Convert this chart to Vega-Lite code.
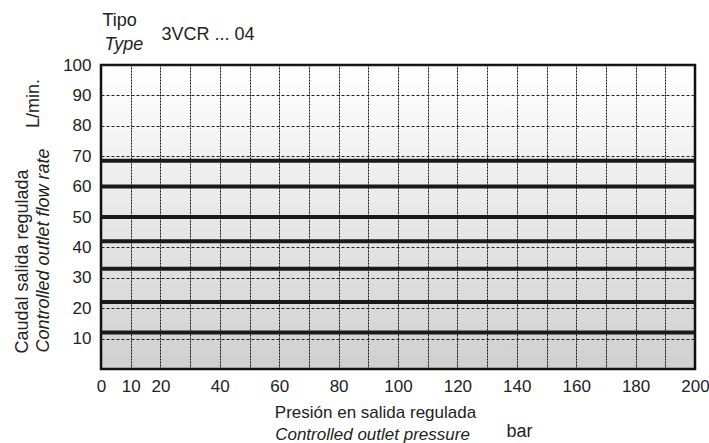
{
  "$schema": "https://vega.github.io/schema/vega-lite/v6.json",
  "width": 594,
  "height": 304,
  "autosize": {"type": "none"},
  "padding": {"left": 101, "top": 65, "right": 14, "bottom": 74},
  "background": "white",
  "config": {
    "font": "Liberation Sans",
    "view": {
      "stroke": "#111111",
      "strokeWidth": 2.5,
      "fill": {
        "gradient": "linear",
        "x1": 0, "y1": 0, "x2": 0, "y2": 1,
        "stops": [
          {"offset": 0, "color": "#ffffff"},
          {"offset": 1, "color": "#d0d0d0"}
        ]
      }
    },
    "axis": {
      "labelFont": "Liberation Sans",
      "titleFont": "Liberation Sans",
      "labelColor": "#222222",
      "titleColor": "#222222",
      "titleFontWeight": "normal",
      "titleFontSize": 18
    }
  },
  "datasets": {
    "flows": [
      {"flow": 68.5}, {"flow": 60}, {"flow": 50}, {"flow": 42},
      {"flow": 33}, {"flow": 22}, {"flow": 12}
    ],
    "pressure": [{"p": 0}, {"p": 200}]
  },
  "resolve": {"axis": {"x": "independent", "y": "independent"}},
  "layer": [
    {
      "data": {"name": "pressure"},
      "mark": {"type": "rule", "opacity": 0},
      "encoding": {
        "x": {
          "field": "p", "type": "quantitative",
          "scale": {"domain": [0, 200], "nice": false, "zero": false},
          "axis": {
            "orient": "bottom",
            "values": [0,10,20,30,40,50,60,70,80,90,100,110,120,130,140,150,160,170,180,190,200],
            "labelExpr": "datum.value <= 20 || datum.value % 20 === 0 ? datum.label : ''",
            "grid": true, "gridColor": "#111111", "gridDash": [2, 1], "gridWidth": 1, "gridOpacity": 1,
            "ticks": false, "domain": false,
            "labelFontSize": 17, "labelPadding": 9, "labelOverlap": false, "labelFlush": false,
            "title": "Presión en salida regulada", "titleFontSize": 17,
            "titleX": 274, "titleY": 48.5, "titleBaseline": "alphabetic", "titleAlign": "center"
          }
        }
      }
    },
    {
      "data": {"name": "flows"},
      "mark": {"type": "rule", "strokeWidth": 4, "color": "#1a1a1a"},
      "encoding": {
        "y": {
          "field": "flow", "type": "quantitative",
          "scale": {"domain": [0, 100], "nice": false},
          "axis": {
            "orient": "left",
            "values": [10,20,30,40,50,60,70,80,90,100],
            "grid": true, "gridColor": "#222222", "gridDash": [3, 2], "gridWidth": 1, "gridOpacity": 1,
            "ticks": false, "domain": false,
            "labelFontSize": 17, "labelPadding": 10,
            "title": "Controlled outlet flow rate",
            "titleFontStyle": "italic",
            "titleX": -53, "titleY": 185, "titleAngle": -90,
            "titleBaseline": "alphabetic", "titleAlign": "center"
          }
        }
      }
    },
    {
      "data": {"name": "flows"},
      "mark": {"type": "rule", "opacity": 0},
      "encoding": {
        "y": {
          "field": "flow", "type": "quantitative",
          "axis": {
            "orient": "left", "labels": false, "ticks": false, "domain": false, "grid": false,
            "title": "Caudal salida regulada",
            "titleX": -74, "titleY": 196, "titleAngle": -90,
            "titleBaseline": "alphabetic", "titleAlign": "center"
          }
        }
      }
    },
    {
      "data": {"name": "flows"},
      "mark": {"type": "rule", "opacity": 0},
      "encoding": {
        "y": {
          "field": "flow", "type": "quantitative",
          "axis": {
            "orient": "left", "labels": false, "ticks": false, "domain": false, "grid": false,
            "title": "L/min.",
            "titleX": -63, "titleY": 38, "titleAngle": -90,
            "titleBaseline": "alphabetic", "titleAlign": "center"
          }
        }
      }
    },
    {
      "data": {"name": "pressure"},
      "mark": {"type": "rule", "opacity": 0},
      "encoding": {
        "x": {
          "field": "p", "type": "quantitative",
          "axis": {
            "orient": "bottom", "labels": false, "ticks": false, "domain": false, "grid": false,
            "title": "Controlled outlet pressure", "titleFontStyle": "italic", "titleFontSize": 17,
            "titleX": 271, "titleY": 70, "titleBaseline": "alphabetic", "titleAlign": "center"
          }
        }
      }
    },
    {
      "data": {"name": "pressure"},
      "mark": {"type": "rule", "opacity": 0},
      "encoding": {
        "x": {
          "field": "p", "type": "quantitative",
          "axis": {
            "orient": "bottom", "labels": false, "ticks": false, "domain": false, "grid": false,
            "title": "bar",
            "titleX": 418, "titleY": 67, "titleBaseline": "alphabetic", "titleAlign": "center"
          }
        }
      }
    },
    {
      "data": {"name": "pressure"},
      "mark": {"type": "rule", "opacity": 0},
      "encoding": {
        "x": {
          "field": "p", "type": "quantitative",
          "axis": {
            "orient": "top", "labels": false, "ticks": false, "domain": false, "grid": false,
            "title": "Tipo",
            "titleX": 1, "titleY": -40, "titleBaseline": "alphabetic", "titleAlign": "left"
          }
        }
      }
    },
    {
      "data": {"name": "pressure"},
      "mark": {"type": "rule", "opacity": 0},
      "encoding": {
        "x": {
          "field": "p", "type": "quantitative",
          "axis": {
            "orient": "top", "labels": false, "ticks": false, "domain": false, "grid": false,
            "title": "Type", "titleFontStyle": "italic",
            "titleX": 3, "titleY": -16, "titleBaseline": "alphabetic", "titleAlign": "left"
          }
        }
      }
    },
    {
      "data": {"name": "pressure"},
      "mark": {"type": "rule", "opacity": 0},
      "encoding": {
        "x": {
          "field": "p", "type": "quantitative",
          "axis": {
            "orient": "top", "labels": false, "ticks": false, "domain": false, "grid": false,
            "title": "3VCR ... 04",
            "titleX": 60, "titleY": -26, "titleBaseline": "alphabetic", "titleAlign": "left"
          }
        }
      }
    }
  ]
}
